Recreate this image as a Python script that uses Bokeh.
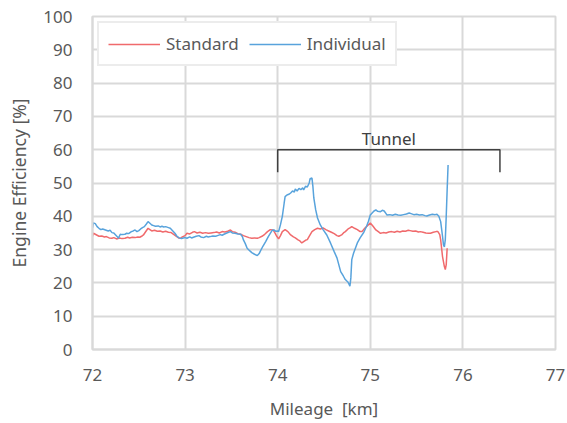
from bokeh.plotting import figure
from bokeh.models import ColumnDataSource, Legend, LegendItem, FixedTicker, Range1d
from bokeh.core.properties import value
from bokeh.embed import file_html
from bokeh.resources import INLINE

# ---- data ----
ind_km = [72.00, 72.01, 72.03, 72.05, 72.07, 72.09, 72.11, 72.14, 72.17, 72.19, 72.21, 72.23, 72.25, 72.27,
          72.28, 72.30, 72.32, 72.35, 72.37, 72.39, 72.42, 72.44, 72.46, 72.48, 72.50, 72.52, 72.54, 72.56,
          72.58, 72.60, 72.62, 72.64, 72.66, 72.68, 72.71, 72.73, 72.75, 72.77, 72.79, 72.82, 72.84, 72.86,
          72.89, 72.91, 72.93, 72.96, 72.98, 73.00, 73.02, 73.05, 73.07, 73.09, 73.12, 73.15, 73.17, 73.20,
          73.23, 73.25, 73.27, 73.30, 73.33, 73.35, 73.38, 73.40, 73.42, 73.45, 73.47, 73.49, 73.51, 73.54,
          73.57, 73.60, 73.62, 73.63, 73.65, 73.67, 73.70, 73.72, 73.75, 73.78, 73.80, 73.81, 73.84, 73.87,
          73.90, 73.92, 73.94, 73.96, 73.98, 74.00, 74.01, 74.03, 74.05, 74.07, 74.08, 74.10, 74.12, 74.14,
          74.16, 74.18, 74.19, 74.21, 74.23, 74.25, 74.27, 74.28, 74.30, 74.32, 74.34, 74.35, 74.37, 74.38,
          74.39, 74.41, 74.43, 74.46, 74.49, 74.53, 74.57, 74.61, 74.64, 74.68, 74.71, 74.73, 74.76, 74.78,
          74.79, 74.80, 74.82, 74.84, 74.86, 74.89, 74.93, 74.96, 74.98, 75.00, 75.02, 75.04, 75.06, 75.08,
          75.11, 75.13, 75.15, 75.17, 75.18, 75.21, 75.24, 75.27, 75.30, 75.33, 75.36, 75.39, 75.42, 75.44,
          75.47, 75.50, 75.53, 75.56, 75.59, 75.61, 75.64, 75.67, 75.70, 75.72, 75.74, 75.76, 75.78, 75.79,
          75.80, 75.81, 75.82, 75.83, 75.84]
ind_eff = [36.5, 38.0, 37.8, 36.9, 36.4, 36.0, 36.2, 35.9, 35.6, 35.8, 35.1, 35.0, 34.4, 33.8,
           33.4, 34.6, 34.5, 34.6, 34.9, 34.8, 35.4, 35.6, 35.9, 35.4, 35.7, 36.2, 36.6, 36.9,
           37.6, 38.4, 37.9, 37.4, 37.2, 37.0, 37.1, 36.8, 37.0, 36.8, 36.9, 36.6, 36.4, 35.8,
           34.9, 34.1, 33.6, 33.3, 33.5, 33.6, 33.4, 33.8, 33.5, 33.7, 34.0, 34.2, 33.8, 33.6,
           34.0, 33.8, 33.9, 34.1, 34.0, 34.2, 34.5, 34.3, 34.6, 35.0, 35.2, 35.4, 35.0, 34.9,
           34.7, 34.6, 33.8, 32.9, 31.8, 30.4, 29.6, 29.1, 28.6, 28.2, 28.8, 29.4, 31.0, 32.4,
           34.0, 34.9, 35.8, 35.9, 35.5, 35.6, 35.4, 37.5, 40.0, 44.0, 45.9, 46.4, 46.6, 47.0,
           47.6, 47.3, 48.2, 47.6, 48.4, 48.0, 48.6, 47.9, 49.0, 48.8, 50.0, 51.3, 51.5, 49.0,
           45.5, 42.0, 39.5, 37.4, 36.0, 34.4, 32.0, 29.4, 27.5, 23.4, 22.0, 21.0, 20.2, 19.0,
           21.5, 27.0, 29.0, 30.5, 32.0, 33.5, 35.2, 37.0, 38.5, 40.4, 41.0, 41.6, 41.9, 41.5,
           41.4, 41.8, 41.6, 40.8, 40.4, 40.5, 40.3, 40.6, 40.4, 40.3, 40.5, 40.7, 41.0, 40.8,
           40.5, 40.6, 40.4, 40.5, 40.2, 40.1, 40.4, 40.6, 40.5, 40.6, 40.0, 38.4, 34.0, 31.4,
           30.8, 33.0, 40.0, 48.0, 55.4]

std_km = [72.00, 72.01, 72.03, 72.05, 72.07, 72.10, 72.13, 72.15, 72.18, 72.21, 72.23, 72.26, 72.29, 72.32,
          72.35, 72.38, 72.40, 72.43, 72.46, 72.49, 72.51, 72.53, 72.55, 72.57, 72.60, 72.62, 72.64, 72.67,
          72.70, 72.73, 72.76, 72.79, 72.82, 72.85, 72.88, 72.91, 72.93, 72.95, 72.97, 73.00, 73.02, 73.05,
          73.08, 73.10, 73.13, 73.16, 73.19, 73.22, 73.25, 73.28, 73.31, 73.34, 73.37, 73.40, 73.43, 73.46,
          73.49, 73.51, 73.54, 73.57, 73.60, 73.63, 73.66, 73.69, 73.72, 73.75, 73.78, 73.80, 73.83, 73.86,
          73.89, 73.92, 73.95, 73.97, 73.99, 74.01, 74.03, 74.05, 74.08, 74.11, 74.14, 74.17, 74.19, 74.22,
          74.24, 74.26, 74.28, 74.30, 74.32, 74.34, 74.37, 74.40, 74.43, 74.46, 74.49, 74.52, 74.55, 74.58,
          74.61, 74.64, 74.66, 74.69, 74.71, 74.73, 74.76, 74.78, 74.80, 74.83, 74.86, 74.89, 74.91, 74.94,
          74.97, 75.00, 75.03, 75.06, 75.09, 75.11, 75.14, 75.17, 75.20, 75.23, 75.26, 75.29, 75.32, 75.35,
          75.38, 75.41, 75.43, 75.46, 75.49, 75.52, 75.54, 75.57, 75.60, 75.63, 75.65, 75.68, 75.71, 75.73,
          75.75, 75.76, 75.78, 75.80, 75.81, 75.82, 75.83]
std_eff = [34.0, 34.9, 34.6, 34.3, 34.0, 34.1, 33.8, 33.9, 33.5, 33.4, 33.6, 33.2, 33.5, 33.3,
           33.4, 33.7, 33.5, 33.7, 33.6, 33.8, 33.7, 34.0, 34.4, 35.2, 36.4, 36.0, 35.6, 35.8,
           35.5, 35.6, 35.3, 35.5, 35.2, 35.1, 34.5, 33.9, 33.5, 33.4, 33.8, 34.2, 34.9, 34.7,
           35.2, 35.4, 35.0, 35.2, 34.9, 35.1, 34.9, 35.0, 35.1, 35.3, 35.0, 35.4, 35.3, 35.5,
           35.9, 35.4, 35.2, 34.8, 34.6, 34.2, 33.9, 33.6, 33.4, 33.5, 33.4, 33.6, 34.0, 34.6,
           35.4, 36.0, 35.9, 35.0, 34.0, 33.2, 34.2, 35.4, 36.0, 35.4, 34.4, 33.8, 33.5, 32.9,
           32.6, 32.0, 32.4, 32.8, 33.0, 34.0, 35.4, 36.0, 36.4, 36.2, 36.5, 36.0, 35.6, 35.2,
           34.8, 34.2, 34.0, 34.4, 35.0, 35.4, 36.2, 36.5, 36.9, 36.4, 36.0, 35.4, 35.4, 36.4,
           37.2, 38.0, 37.0, 35.9, 35.3, 34.9, 35.1, 35.0, 35.3, 35.4, 35.2, 35.5, 35.3, 35.6,
           35.5, 35.8, 35.7, 35.5, 35.6, 35.3, 35.4, 35.2, 35.0, 34.9, 34.9, 35.2, 35.4, 35.4,
           34.5, 32.9, 27.9, 24.9, 24.0, 25.5, 30.4]

x_ticks = [72, 73, 74, 75, 76, 77]
y_ticks = [0, 10, 20, 30, 40, 50, 60, 70, 80, 90, 100]

tunnel_start = 74.0
tunnel_end = 76.4
tunnel_top = 60
tunnel_foot = 53.2
tunnel_label = "Tunnel"

# ---- styling ----
FONT = "Noto Sans"
TXT = "#595959"
GRID = "#d9d9d9"
RED = "#f06a6c"
BLUE = "#58a3dc"

p = figure(width=566, height=422, output_backend="svg", toolbar_location=None,
           x_range=Range1d(72, 77), y_range=Range1d(0, 100),
           min_border_left=92, min_border_right=11, min_border_top=16, min_border_bottom=72)
p.background_fill_color = "white"
p.border_fill_color = "white"
p.outline_line_color = GRID
p.outline_line_width = 2

p.xaxis.ticker = FixedTicker(ticks=x_ticks)
p.yaxis.ticker = FixedTicker(ticks=y_ticks)
for ax in (p.xaxis[0], p.yaxis[0]):
    ax.axis_line_color = GRID
    ax.axis_line_width = 2
    ax.major_tick_line_color = None
    ax.minor_tick_line_color = None
    ax.major_tick_out = 0
    ax.major_tick_in = 0
    ax.major_label_text_font = FONT
    ax.major_label_text_font_size = "17px"
    ax.major_label_text_color = TXT
    ax.axis_label_text_font = FONT
    ax.axis_label_text_color = TXT
    ax.axis_label_text_font_style = "normal"

p.xaxis.axis_label = "Mileage \u00a0[km]"
p.yaxis.axis_label = "Engine Efficiency [%]"
p.xaxis.axis_label_text_font_size = "17px"
p.yaxis.axis_label_text_font_size = "17.5px"
p.xaxis.major_label_standoff = 19
p.xaxis.axis_label_standoff = 13
p.yaxis.major_label_standoff = 20
p.yaxis.axis_label_standoff = 9

p.xgrid.grid_line_color = GRID
p.ygrid.grid_line_color = GRID
p.xgrid.grid_line_width = 2
p.ygrid.grid_line_width = 2

src_std = ColumnDataSource(dict(x=std_km, y=std_eff))
src_ind = ColumnDataSource(dict(x=ind_km, y=ind_eff))
r_std = p.line("x", "y", source=src_std, line_color=RED, line_width=1.5)
r_ind = p.line("x", "y", source=src_ind, line_color=BLUE, line_width=1.5)

# tunnel bracket
br = ColumnDataSource(dict(
    xs=[[tunnel_start, tunnel_start, tunnel_end, tunnel_end]],
    ys=[[tunnel_foot, tunnel_top, tunnel_top, tunnel_foot]]))
p.multi_line("xs", "ys", source=br, line_color="#404040", line_width=1.5)
lab = ColumnDataSource(dict(x=[(tunnel_start + tunnel_end) / 2], y=[tunnel_top - 0.2], t=[tunnel_label]))
p.text("x", "y", text="t", source=lab, text_align="center", text_baseline="bottom",
       text_font=value(FONT), text_font_size="17px", text_color="#404040")

legend = Legend(items=[LegendItem(label="Standard", renderers=[r_std]),
                       LegendItem(label="Individual", renderers=[r_ind])],
                orientation="horizontal", location="top_left")
legend.margin = 5
legend.padding = 9
legend.spacing = 10
legend.glyph_width = 52
legend.glyph_height = 18
legend.label_height = 18
legend.label_standoff = 6
legend.label_text_font = FONT
legend.label_text_font_size = "17px"
legend.label_text_color = TXT
legend.border_line_color = GRID
legend.border_line_width = 2
legend.background_fill_alpha = 1
p.add_layout(legend, "center")

open("out.html", "w").write(file_html(p, INLINE))
